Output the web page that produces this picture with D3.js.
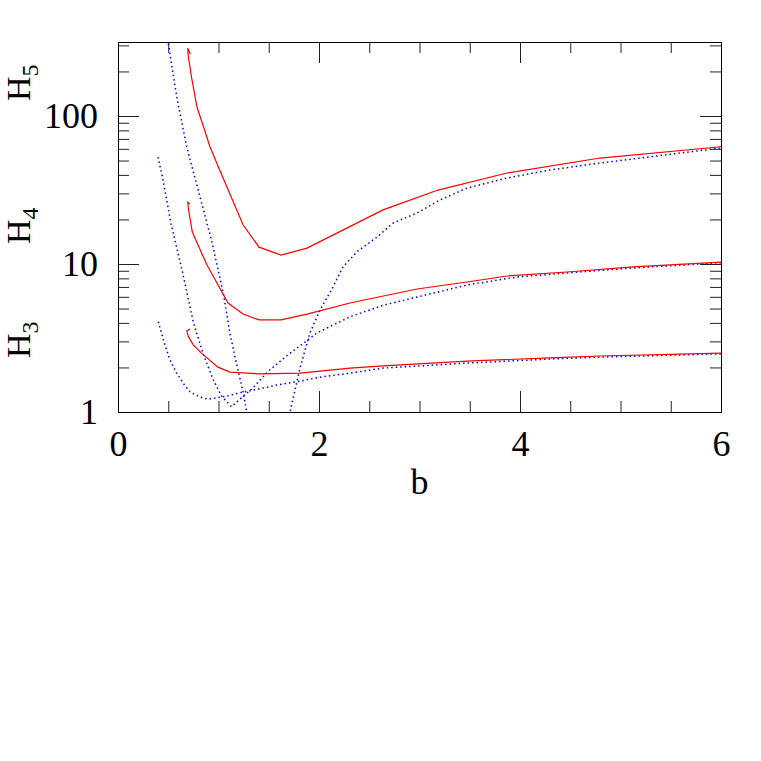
<!DOCTYPE html>
<html>
<head>
<meta charset="utf-8">
<script src="https://cdn.jsdelivr.net/npm/d3@7"></script>
<style>
  body { margin: 0; background: #fff; }
  text { font-family: "Liberation Serif", "Times New Roman", serif; fill: #000; }
</style>
</head>
<body>
<svg id="svg" width="761" height="761"></svg>
<script>
// [b, H] pairs
var red3 = [[0.716,3.63],[0.684,3.54],[0.700,3.23],[0.749,2.84],[0.833,2.49],[0.886,2.32],[0.995,2.01],
  [1.114,1.86],[1.403,1.81],[1.811,1.83],[2.308,1.98],[2.637,2.05],[3.473,2.21],[4.30,2.32],[4.796,2.39],[6.0,2.50]];
var red4 = [[0.716,25.4],[0.694,26.1],[0.700,23.8],[0.716,20.4],[0.739,16.5],[0.786,13.9],[0.886,9.85],
  [0.985,7.44],[1.095,5.45],[1.244,4.59],[1.403,4.19],[1.622,4.19],[1.881,4.59],[2.308,5.45],[2.975,6.78],
  [3.473,7.56],[3.871,8.30],[4.468,8.83],[5.124,9.55],[6.0,10.3]];
var red5 = [[0.719,262],[0.694,287],[0.700,250],[0.716,215],[0.733,180],[0.786,115],[0.85,85],[0.915,62],
  [1.0,45],[1.085,33],[1.244,18.4],[1.403,13.0],[1.622,11.5],[1.881,12.8],[2.637,23.2],[3.184,31.6],
  [3.871,41.2],[4.796,52.0],[6.0,62]];
var blue3 = [[0.401,4.08],[0.451,3.07],[0.517,2.25],[0.584,1.83],[0.65,1.56],[0.716,1.37],[0.816,1.26],
  [0.899,1.22],[0.982,1.25],[1.082,1.28],[1.214,1.35],[1.38,1.42],[1.579,1.52],[1.778,1.60],[2.01,1.72],
  [2.308,1.83],[2.637,1.98],[3.473,2.14],[4.30,2.28],[4.796,2.35],[6.0,2.47]];
var blue4 = [[0.398,52.8],[0.448,36.9],[0.527,18.8],[0.637,9.1],[0.749,4.06],[0.849,2.45],[0.948,1.65],
  [1.03,1.28],[1.13,1.086],[1.2,1.2],[1.34,1.45],[1.5,1.9],[1.68,2.4],[1.84,2.9],[1.98,3.42],[2.14,3.87],
  [2.31,4.4],[2.64,5.27],[2.975,5.98],[3.473,7.21],[3.97,8.17],[4.468,8.70],[5.124,9.40],[6.0,10.2]];
var blue5 = [[0.45,500],[0.498,316],[0.585,134],[0.684,61.8],[0.816,28.4],[0.93,14.5],[1.048,6.34],
  [1.114,3.40],[1.164,2.36],[1.247,1.34],[1.28,1.0],[1.5,0.5],[1.711,1.0],[1.811,1.98],[1.861,2.62],
  [1.91,3.42],[2.01,4.89],[2.139,6.99],[2.239,9.55],[2.378,12.1],[2.577,15.2],[2.736,18.9],[2.975,22.1],
  [3.204,27.1],[3.473,32.6],[3.871,38.1],[4.30,43.2],[4.796,48.1],[6.0,60.8]];

var xMajor = [0, 2, 4, 6];
var xMinor = d3.range(0, 6.01, 0.5);
var yMajor = [1, 10, 100];
var yMinor = [2,3,4,5,6,7,8,9,20,30,40,50,60,70,80,90,200,300];
var yLabels = ["1", "10", "100"];
var hLabels = [{n: "5", y: 101}, {n: "4", y: 244}, {n: "3", y: 358}];

var svg = d3.select("#svg");

var x = d3.scaleLinear().domain([0, 6]).range([118, 721]);
var y = d3.scaleLog().domain([1, Math.pow(10, 2.5)]).range([412, 42]);

svg.append("clipPath").attr("id", "plot")
  .append("rect")
    .attr("x", x(0)).attr("y", y.range()[1])
    .attr("width", x(6) - x(0)).attr("height", y.range()[0] - y.range()[1]);

function ticks(axis, tx, ty) {
  var g = svg.append("g").attr("transform", "translate(" + tx + "," + ty + ")").call(axis);
  g.select(".domain").remove();
  g.selectAll("line").attr("stroke", "#222");
  return g;
}

// minor ticks on all four sides
ticks(d3.axisBottom(x).tickValues(xMinor).tickSize(-11).tickFormat(""), 0, 412);
ticks(d3.axisTop(x).tickValues(xMinor).tickSize(-11).tickFormat(""), 0, 42);
ticks(d3.axisLeft(y).tickValues(yMinor).tickSize(-11).tickFormat(""), 118, 0);
ticks(d3.axisRight(y).tickValues(yMinor).tickSize(-11).tickFormat(""), 721, 0);

// major ticks
ticks(d3.axisBottom(x).tickValues(xMajor).tickSize(-21).tickPadding(18.5).tickFormat(d3.format("d")), 0, 412)
  .attr("font-family", null).attr("font-size", 36);
ticks(d3.axisTop(x).tickValues(xMajor).tickSize(-21).tickFormat(""), 0, 42);
ticks(d3.axisLeft(y).tickValues(yMajor).tickSize(-21).tickPadding(20)
    .tickFormat(function(d, i) { return yLabels[i]; }), 118, 0)
  .attr("font-family", null).attr("font-size", 36);
ticks(d3.axisRight(y).tickValues(yMajor).tickSize(-21).tickFormat(""), 721, 0);

svg.append("rect")
    .attr("x", x(0) + 0.5).attr("y", y.range()[1] + 0.5)
    .attr("width", x(6) - x(0)).attr("height", y.range()[0] - y.range()[1])
    .attr("fill", "none").attr("stroke", "#000").attr("stroke-width", 1);

var line = d3.line()
    .x(function(d) { return x(d[0]); })
    .y(function(d) { return y(d[1]); });

var curves = svg.append("g").attr("clip-path", "url(#plot)");

[blue3, blue4, blue5].forEach(function(s) {
  curves.append("path").datum(s)
      .attr("d", line)
      .attr("fill", "none")
      .attr("stroke", "#0000ff")
      .attr("stroke-width", 1.5)
      .attr("stroke-dasharray", "1.5,3");
});

[red3, red4, red5].forEach(function(s) {
  curves.append("path").datum(s)
      .attr("d", line)
      .attr("fill", "none")
      .attr("stroke", "#ff0000")
      .attr("stroke-width", 1.2);
});

svg.append("text")
    .attr("x", (x(0) + x(6)) / 2)
    .attr("y", 494)
    .attr("text-anchor", "middle")
    .attr("font-size", 36)
    .text("b");

hLabels.forEach(function(h) {
  var t = svg.append("text")
      .attr("transform", "translate(30," + h.y + ") rotate(-90)")
      .attr("font-size", 34);
  t.append("tspan").text("H");
  t.append("tspan").attr("font-size", 24).attr("dy", 8).text(h.n);
});
</script>
</body>
</html>
